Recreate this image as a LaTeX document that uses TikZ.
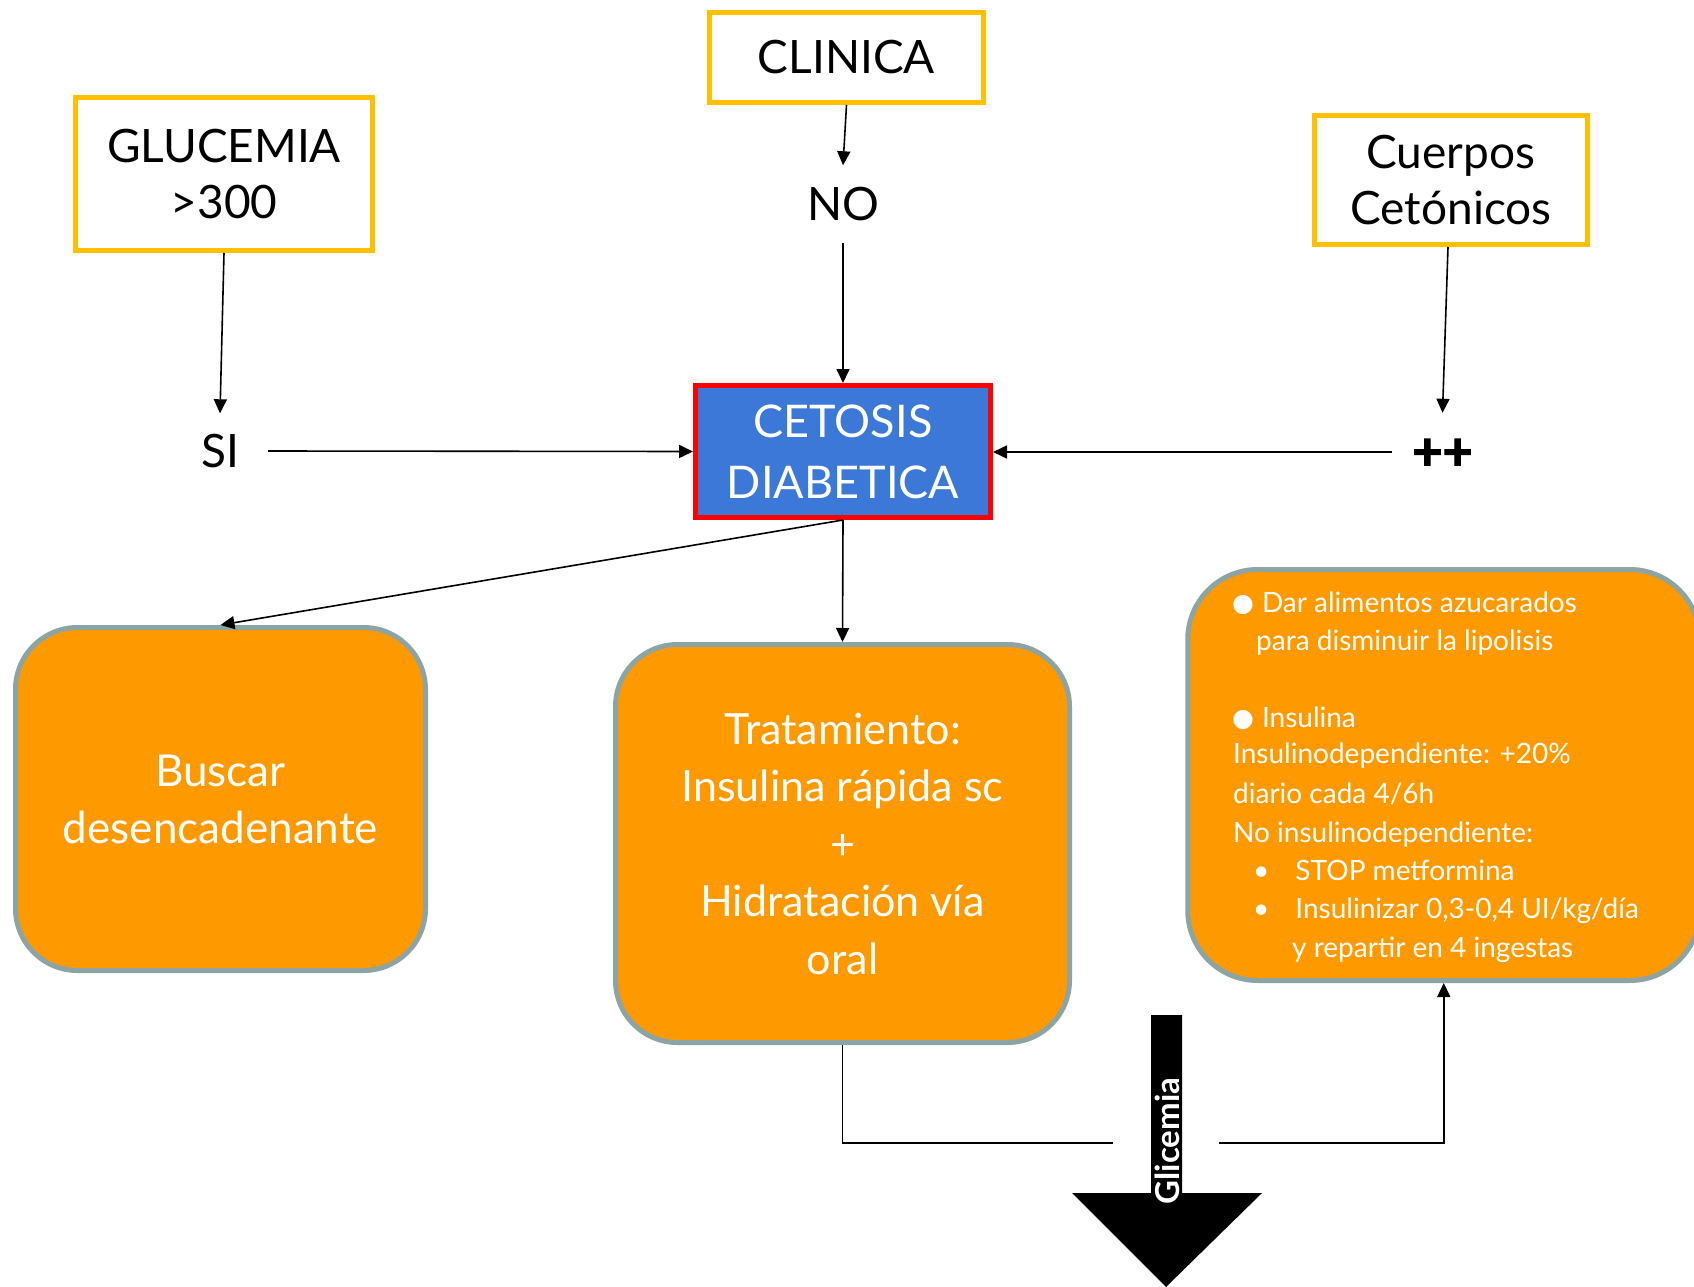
\documentclass[tikz,border=0pt]{standalone}
\usepackage{fontspec}
\setmainfont{Lato}
\newfontfamily\symfont{DejaVu Sans}
\usetikzlibrary{arrows.meta}

\definecolor{boxyellow}{HTML}{FFC000}
\definecolor{boxorange}{HTML}{FF9900}
\definecolor{boxblue}{HTML}{3C78D8}
\definecolor{boxgray}{HTML}{8CA4A4}

\newcommand{\bigdot}{\raisebox{1pt}{\symfont\fontsize{25}{25}\selectfont ●}}

\tikzset{
  headbox/.style={draw=boxyellow, line width=5pt, fill=white, align=center,
    font=\fontsize{46}{56}\selectfont, inner sep=0pt},
  lbl/.style={font=\fontsize{46}{56}\selectfont, text height=33pt, text depth=0pt, inner sep=0pt},
  cetbox/.style={draw=red, line width=5pt, fill=boxblue, text=white, align=center,
    font=\fontsize{45}{61}\selectfont, inner sep=0pt},
  actbox/.style={draw=boxgray, line width=5pt, fill=boxorange, text=white, align=center,
    rounded corners=62pt, inner sep=0pt},
  rline/.style={text=white, font=\fontsize{28}{38}\selectfont, anchor=base west, inner sep=0pt},
  conn/.style={line width=1.6pt, -{Triangle[length=14pt,width=13pt]}},
  plain/.style={line width=1.6pt}
}

\begin{document}
\begin{tikzpicture}[x=1pt,y=-1pt]
\useasboundingbox (0,0) rectangle (1694,1287);
\fill[white] (0,0) rectangle (1694,1287);

% top row: criteria
\node[headbox, minimum width=274pt, minimum height=90pt] (clin) at (846.5,57.5) {CLINICA};
\node[headbox, minimum width=297pt, minimum height=153pt] (gluc) at (224,174) {GLUCEMIA\\ >300};
\node[headbox, minimum width=273pt, minimum height=129pt] (cuer) at (1451,180) {Cuerpos\\ Cetónicos};

% answers
\node[lbl, inner ysep=22pt] (no) at (843,204) {NO};
\node[lbl, inner ysep=21pt, inner xsep=29pt] (si) at (220,451) {SI};
\node[font=\fontsize{52}{52}\selectfont\bfseries\addfontfeature{FakeBold=2.5}, text height=26pt, text depth=0pt,
      inner ysep=30.5pt, inner xsep=20pt] (pp) at (1442.5,456.5) {++};

% central diagnosis
\node[cetbox, minimum width=295pt, minimum height=132pt] (cet) at (843,451.5) {CETOSIS\\ DIABETICA};

% actions
\node[actbox, minimum width=410pt, minimum height=343pt, font=\fontsize{44}{57}\selectfont]
  (busc) at (220.5,799) {Buscar\\ desencadenante};
\node[actbox, minimum width=454pt, minimum height=398pt, font=\fontsize{43}{57.5}\selectfont]
  (trat) at (842.5,843.5) {Tratamiento:\\ Insulina rápida sc\\ +\\ Hidratación vía\\ oral};
\node[actbox, minimum width=512pt, minimum height=411pt, rounded corners=70pt]
  (rb) at (1443.75,775) {};

% text of the right-hand box
\node[rline] (r1) at (1232,612) {\bigdot\hspace{8pt}Dar alimentos azucarados};
\node[rline] (r2) at (1256,650) {para disminuir la lipolisis};
\node[rline] (r3) at (1232,727) {\bigdot\hspace{8pt}Insulina};
\node[rline] (r4) at (1233,763) {Insulinodependiente: +20\%};
\node[rline] (r5) at (1233,803) {diario cada 4/6h};
\node[rline] (r6) at (1233,842) {No insulinodependiente:};
\node[rline] (r7) at (1253,880) {•\hspace{26pt}STOP metformina};
\node[rline] (r8) at (1253,918) {•\hspace{26pt}Insulinizar 0,3-0,4 UI/kg/día};
\node[rline] (r9) at (1292,957) {y repartir en 4 ingestas};

% big downward arrow
\fill[black] (1151,1015) -- (1182,1015) -- (1182,1193) -- (1262,1193) -- (1166,1287)
  -- (1072,1193) -- (1151,1193) -- cycle;
\node[rotate=90, text=white, font=\fontsize{33}{33}\selectfont\bfseries, inner sep=0pt]
  (glic) at (1167,1141) {Glicemia};

% connectors
\draw[conn] (clin.south) -- (no.north);
\draw[conn] (no.south) -- (cet.north);
\draw[conn] (gluc.south) -- (si.north);
\draw[conn] (si.east) -- (cet.west);
\draw[conn] ([xshift=-3pt]cuer.south) -- (pp.north);
\draw[conn] ([yshift=4.5pt]pp.west) -- ([yshift=4.5pt]pp.west -| cet.east);
\draw[conn] (cet.south) -- (busc.north);
\draw[conn] (cet.south) -- (trat.north);

\coordinate (g1) at (1113,1143);
\coordinate (g2) at (1219,1143);
\draw[plain] (trat.south) |- (g1);
\draw[conn] (g2) -| (rb.south);
\end{tikzpicture}
\end{document}
